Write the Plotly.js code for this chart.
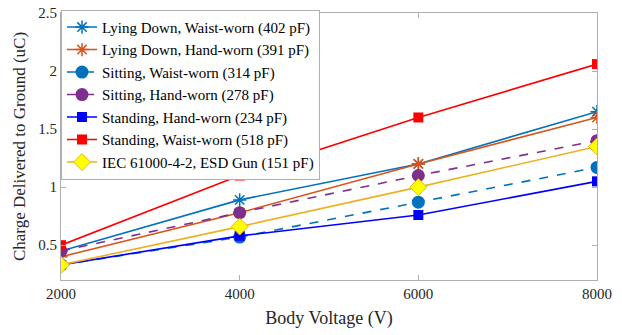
<!DOCTYPE html>
<html><head><meta charset="utf-8">
<script src="https://cdn.plot.ly/plotly-3.0.1.min.js"></script>
<style>html,body{margin:0;padding:0;background:#fff}#chart{width:622px;height:335px}</style>
</head><body><div id="chart"></div>
<script>
const voltages = [2000, 4000, 6000, 8000];
const lyingWaist = [0.45, 0.89, 1.2, 1.65];
const lyingHand = [0.40, 0.78, 1.2, 1.6];
const sittingWaist = [0.33, 0.57, 0.87, 1.17];
const sittingHand = [0.45, 0.78, 1.1, 1.4];
const standingHand = [0.33, 0.58, 0.76, 1.05];
const standingWaist = [0.50, 1.1, 1.6, 2.06];
const iecGun = [0.33, 0.66, 1.0, 1.35];
const names = [
  "Lying Down, Waist-worn (402 pF)",
  "Lying Down, Hand-worn (391 pF)",
  "Sitting, Waist-worn (314 pF)",
  "Sitting, Hand-worn (278 pF)",
  "Standing, Hand-worn (234 pF)",
  "Standing, Waist-worn (518 pF)",
  "IEC 61000-4-2, ESD Gun (151 pF)"
];
const xTicks = [2000, 4000, 6000, 8000];
const yTicks = [0.5, 1, 1.5, 2, 2.5];
const yTickText = ["0.5", "1", "1.5", "2", "2.5"];
const SERIF = 'Liberation Serif';

function tr(y, name, color, dash, sym, mcolor, msize, mline) {
  return {
    x: voltages, y: y, name: name, type: 'scatter', mode: 'lines+markers',
    line: {color: color, width: 1.6, dash: dash},
    marker: {symbol: sym, color: mcolor, size: msize, line: mline}
  };
}
const data = [
  tr(lyingWaist, names[0], '#0072BD', 'solid', 'asterisk-open', '#0072BD', 11, {color: '#0072BD', width: 1.5}),
  tr(lyingHand, names[1], '#D95319', 'solid', 'asterisk-open', '#D95319', 11, {color: '#D95319', width: 1.5}),
  tr(sittingWaist, names[2], '#0072BD', 'dash', 'circle', '#0072BD', 13, {width: 0}),
  tr(sittingHand, names[3], '#7E2F8E', 'dash', 'circle', '#7E2F8E', 13, {width: 0}),
  tr(standingHand, names[4], '#0000FF', 'solid', 'square', '#0000FF', 10, {width: 0}),
  tr(standingWaist, names[5], '#FF0000', 'solid', 'square', '#FF0000', 10, {width: 0}),
  tr(iecGun, names[6], '#EDB120', 'solid', 'diamond', '#FFFF00', 13, {color: '#EDB120', width: 1})
];
const layout = {
  width: 622, height: 335,
  margin: {l: 61, r: 25, t: 10, b: 55},
  paper_bgcolor: '#fff', plot_bgcolor: '#fff',
  font: {family: SERIF, color: '#262626'},
  xaxis: {
    range: [2000, 8000], tickvals: xTicks, ticktext: xTicks.map(String),
    showgrid: false, zeroline: false, showline: true, linecolor: '#b0b0b0', linewidth: 1,
    mirror: 'ticks', ticks: 'inside', ticklen: 5, tickcolor: '#b0b0b0',
    tickfont: {family: SERIF, size: 15, color: '#262626'},
    title: {text: 'Body Voltage (V)', font: {family: SERIF, size: 18, color: '#262626'}, standoff: 10}
  },
  yaxis: {
    range: [0.2, 2.5], tickvals: yTicks, ticktext: yTickText,
    showgrid: false, zeroline: false, showline: true, linecolor: '#b0b0b0', linewidth: 1,
    mirror: 'ticks', ticks: 'inside', ticklen: 5, tickcolor: '#b0b0b0',
    tickfont: {family: SERIF, size: 15, color: '#262626'},
    title: {text: 'Charge Delivered to Ground (uC)', font: {family: SERIF, size: 17, color: '#262626'}, standoff: 8}
  },
  showlegend: true,
  legend: {
    x: 0, xref: 'paper', xanchor: 'left', y: 1.012, yanchor: 'top',
    bgcolor: '#fff', bordercolor: '#b0b0b0', borderwidth: 1,
    font: {family: SERIF, size: 15, color: '#000'}, tracegroupgap: 0, itemwidth: 30,
    traceorder: 'normal', maxheight: 320
  }
};
Plotly.newPlot('chart', data, layout, {displayModeBar: false, staticPlot: true});
</script>
</body></html>
